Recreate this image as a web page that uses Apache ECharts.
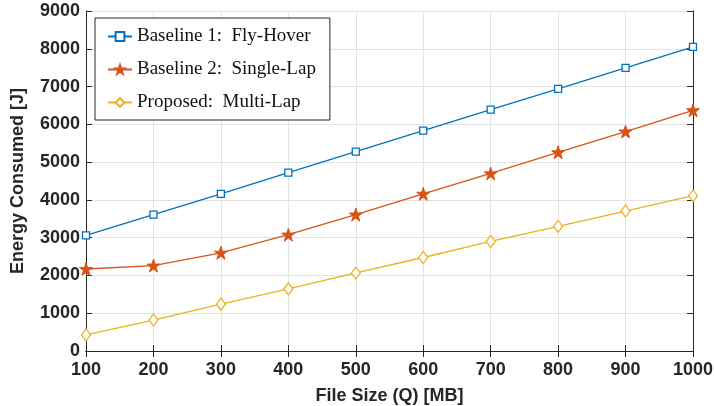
<!DOCTYPE html>
<html>
<head>
<meta charset="utf-8">
<script src="https://cdn.jsdelivr.net/npm/echarts@6/dist/echarts.min.js"></script>
<style>html,body{margin:0;padding:0;background:#fff;}#c{width:714px;height:406px;}</style>
</head>
<body>
<div id="c"></div>
<script>
const fileSizes = [100, 200, 300, 400, 500, 600, 700, 800, 900, 1000];
const baseline1 = [3060, 3610, 4160, 4720, 5280, 5835, 6390, 6940, 7496, 8053];
const baseline2 = [2170, 2260, 2600, 3080, 3610, 4160, 4700, 5260, 5810, 6370];
const proposed = [425, 820, 1240, 1645, 2065, 2475, 2900, 3300, 3705, 4110];
const seriesNames = ['Baseline 1:  Fly-Hover', 'Baseline 2:  Single-Lap', 'Proposed:  Multi-Lap'];

const starPath = 'path://M50,0 L61.8,35.3 L99,35.3 L69,57.1 L80.4,92.7 L50,70.6 L19.6,92.7 L31,57.1 L1,35.3 L38.2,35.3 Z';
const axisColor = '#262626';
const gridColor = '#e3e3e3';
const tickFont = {fontFamily: 'Liberation Sans', fontWeight: 'bold', fontSize: 18, color: axisColor};

function pairs(vals){ return fileSizes.map((x,i)=>[x, vals[i]]); }

const chart = echarts.init(document.getElementById('c'), null, {renderer:'canvas'});
chart.setOption({
  animation: false,
  backgroundColor: '#fff',
  grid: {left: 86, right: 21, top: 11, bottom: 55, show: false, containLabel: false, outerBoundsMode: 'none'},
  legend: {
    orient: 'vertical', left: 95, top: 18,
    backgroundColor: '#fff', borderColor: axisColor, borderWidth: 1,
    padding: [9, 14, 8, 12], itemWidth: 24, itemHeight: 11, itemGap: 14,
    textStyle: {fontFamily: 'Liberation Serif', fontSize: 19, color: '#111'},
    data: seriesNames
  },
  xAxis: [{
    type: 'value', min: 100, max: 1000, interval: 100,
    name: 'File Size (Q) [MB]', nameLocation: 'middle', nameGap: 36,
    nameTextStyle: {fontFamily: 'Liberation Sans', fontWeight: 'bold', fontSize: 18, color: axisColor},
    axisLine: {show: true, lineStyle: {color: axisColor, width: 1}},
    axisTick: {show: true, inside: true, length: 6, lineStyle: {color: axisColor}},
    axisLabel: Object.assign({margin: 10, formatter: v => String(v)}, tickFont),
    splitLine: {show: true, lineStyle: {color: gridColor, width: 1}}
  },{
    type: 'value', min: 100, max: 1000, interval: 100, position: 'top',
    axisLine: {show: true, lineStyle: {color: axisColor, width: 1}},
    axisTick: {show: true, inside: true, length: 6, lineStyle: {color: axisColor}},
    axisLabel: {show: false}, splitLine: {show: false}
  }],
  yAxis: [{
    type: 'value', min: 0, max: 9000, interval: 1000,
    name: 'Energy Consumed [J]', nameLocation: 'middle', nameGap: 59,
    nameTextStyle: {fontFamily: 'Liberation Sans', fontWeight: 'bold', fontSize: 18, color: axisColor},
    axisLine: {show: true, lineStyle: {color: axisColor, width: 1}},
    axisTick: {show: true, inside: true, length: 6, lineStyle: {color: axisColor}},
    axisLabel: Object.assign({margin: 6, formatter: v => String(v)}, tickFont),
    splitLine: {show: true, lineStyle: {color: gridColor, width: 1}}
  },{
    type: 'value', min: 0, max: 9000, interval: 1000, position: 'right',
    axisLine: {show: true, lineStyle: {color: axisColor, width: 1}},
    axisTick: {show: true, inside: true, length: 6, lineStyle: {color: axisColor}},
    axisLabel: {show: false}, splitLine: {show: false}
  }],
  series: [{
    name: seriesNames[0], type: 'line', data: pairs(baseline1),
    symbol: 'rect', symbolSize: 7,
    lineStyle: {color: '#0072BD', width: 1.3},
    itemStyle: {color: '#ffffff', borderColor: '#0072BD', borderWidth: 1.3}
  },{
    name: seriesNames[1], type: 'line', data: pairs(baseline2),
    symbol: starPath, symbolSize: 13,
    lineStyle: {color: '#D95319', width: 1.3},
    itemStyle: {color: '#D95319', borderColor: '#D95319', borderWidth: 1}
  },{
    name: seriesNames[2], type: 'line', data: pairs(proposed),
    symbol: 'diamond', symbolSize: [9, 12],
    lineStyle: {color: '#EDB120', width: 1.3},
    itemStyle: {color: '#ffffff', borderColor: '#EDB120', borderWidth: 1.3}
  }]
});
</script>
</body>
</html>
